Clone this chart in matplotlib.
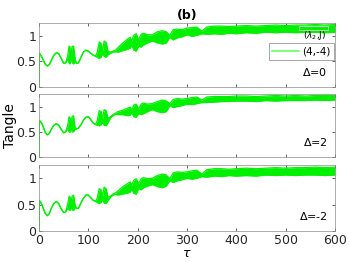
import numpy as np
import matplotlib.pyplot as plt
from matplotlib.patches import Rectangle

# time grid shared by all three panels
tau = [0, 1, 5, 9, 13, 17, 21, 25, 30, 35, 40, 45, 50, 54, 58, 61, 63, 65, 67, 70,
       73, 76, 80, 85, 90, 95, 100, 105, 110, 115, 118, 122, 126, 129, 132, 136, 140,
       145, 150, 155, 160, 170, 180, 185, 188, 192, 197, 202, 207, 212, 220, 230, 240,
       250, 258, 265, 272, 280, 290, 300, 310, 320, 330, 340, 355, 370, 385, 400, 420,
       440, 460, 480, 500, 520, 540, 560, 580, 600]

# lower / upper envelope of the tangle, Delta = 0
lo_d0 = [0.00, 0.64, 0.60, 0.52, 0.44, 0.41, 0.44, 0.52, 0.62, 0.67, 0.65, 0.56, 0.46, 0.47,
         0.54, 0.47, 0.45, 0.58, 0.48, 0.45, 0.50, 0.46, 0.47, 0.58, 0.68, 0.72, 0.70, 0.66,
         0.62, 0.60, 0.58, 0.56, 0.58, 0.66, 0.60, 0.58, 0.63, 0.66, 0.68, 0.69, 0.68, 0.71,
         0.74, 0.76, 0.82, 0.72, 0.70, 0.80, 0.78, 0.82, 0.86, 0.90, 0.86, 0.84, 0.86, 0.97,
         0.92, 0.96, 0.98, 1.02, 0.99, 1.01, 1.04, 1.03, 1.04, 1.03, 1.05, 1.04, 1.06, 1.05,
         1.07, 1.06, 1.07, 1.06, 1.07, 1.07, 1.06, 1.07]
hi_d0 = [0.00, 0.66, 0.60, 0.52, 0.44, 0.41, 0.44, 0.52, 0.62, 0.67, 0.65, 0.56, 0.46, 0.47,
         0.60, 0.80, 0.78, 0.62, 0.79, 0.80, 0.56, 0.46, 0.47, 0.58, 0.68, 0.72, 0.70, 0.66,
         0.62, 0.61, 0.68, 0.88, 0.85, 0.70, 0.90, 0.87, 0.70, 0.68, 0.70, 0.72, 0.77, 0.86,
         0.94, 0.97, 0.90, 1.01, 1.04, 0.92, 1.03, 1.05, 1.02, 1.02, 1.08, 1.10, 1.08, 1.01,
         1.12, 1.13, 1.12, 1.15, 1.16, 1.17, 1.09, 1.17, 1.19, 1.19, 1.18, 1.19, 1.20, 1.19,
         1.20, 1.21, 1.20, 1.21, 1.21, 1.22, 1.21, 1.22]

# Delta = 2
lo_d2 = [0.00, 0.71, 0.68, 0.59, 0.48, 0.44, 0.47, 0.55, 0.63, 0.66, 0.63, 0.55, 0.48, 0.50,
         0.56, 0.50, 0.49, 0.60, 0.50, 0.50, 0.55, 0.56, 0.57, 0.64, 0.73, 0.79, 0.80, 0.74,
         0.67, 0.64, 0.63, 0.62, 0.64, 0.70, 0.63, 0.62, 0.68, 0.78, 0.82, 0.85, 0.84, 0.84,
         0.82, 0.83, 0.88, 0.80, 0.79, 0.86, 0.84, 0.86, 0.90, 0.94, 0.90, 0.88, 0.90, 1.02,
         0.98, 1.00, 1.02, 1.05, 1.04, 1.06, 1.08, 1.08, 1.09, 1.10, 1.10, 1.11, 1.11, 1.10,
         1.12, 1.11, 1.12, 1.12, 1.12, 1.13, 1.12, 1.13]
hi_d2 = [0.00, 0.73, 0.68, 0.59, 0.48, 0.44, 0.47, 0.55, 0.63, 0.66, 0.63, 0.55, 0.48, 0.50,
         0.62, 0.80, 0.78, 0.64, 0.80, 0.82, 0.60, 0.56, 0.57, 0.64, 0.73, 0.79, 0.80, 0.74,
         0.67, 0.65, 0.72, 0.92, 0.90, 0.76, 0.94, 0.92, 0.76, 0.80, 0.84, 0.87, 0.90, 0.93,
         0.97, 0.99, 0.93, 1.03, 1.05, 0.95, 1.05, 1.07, 1.05, 1.06, 1.10, 1.13, 1.11, 1.06,
         1.14, 1.16, 1.15, 1.16, 1.18, 1.19, 1.13, 1.19, 1.20, 1.20, 1.20, 1.21, 1.21, 1.20,
         1.21, 1.22, 1.21, 1.22, 1.21, 1.22, 1.22, 1.22]

# Delta = -2
lo_dm2 = [0.00, 0.56, 0.52, 0.42, 0.33, 0.29, 0.33, 0.43, 0.52, 0.56, 0.52, 0.42, 0.35, 0.36,
          0.43, 0.40, 0.39, 0.48, 0.40, 0.39, 0.44, 0.43, 0.43, 0.53, 0.62, 0.68, 0.68, 0.63,
          0.58, 0.56, 0.54, 0.52, 0.54, 0.60, 0.53, 0.52, 0.58, 0.64, 0.68, 0.70, 0.68, 0.70,
          0.72, 0.74, 0.80, 0.71, 0.70, 0.80, 0.78, 0.82, 0.85, 0.88, 0.84, 0.82, 0.85, 0.95,
          0.92, 0.95, 0.97, 1.00, 0.98, 1.00, 1.03, 1.02, 1.04, 1.03, 1.05, 1.04, 1.05, 1.04,
          1.06, 1.05, 1.06, 1.05, 1.06, 1.06, 1.05, 1.06]
hi_dm2 = [0.00, 0.58, 0.52, 0.42, 0.33, 0.29, 0.33, 0.43, 0.52, 0.56, 0.52, 0.42, 0.35, 0.36,
          0.50, 0.66, 0.64, 0.52, 0.66, 0.68, 0.50, 0.43, 0.43, 0.53, 0.62, 0.68, 0.68, 0.63,
          0.58, 0.57, 0.62, 0.80, 0.78, 0.66, 0.83, 0.80, 0.64, 0.66, 0.70, 0.72, 0.76, 0.84,
          0.90, 0.93, 0.87, 0.96, 0.99, 0.90, 0.99, 1.01, 0.99, 1.00, 1.05, 1.08, 1.06, 0.99,
          1.10, 1.12, 1.11, 1.12, 1.14, 1.15, 1.08, 1.16, 1.18, 1.18, 1.17, 1.18, 1.19, 1.18,
          1.19, 1.20, 1.19, 1.20, 1.20, 1.21, 1.20, 1.21]

panels = [(lo_d0, hi_d0, r'$\Delta$=0'),
          (lo_d2, hi_d2, r'$\Delta$=2'),
          (lo_dm2, hi_dm2, r'$\Delta$=-2')]

green = '#00f000'
W, H = 349, 262
fig = plt.figure(figsize=(W / 100, H / 100), dpi=100)

# axes boxes in pixels: (top, bottom)
boxes = [(23, 87), (94, 157), (165, 231)]
left, right = 39, 335

axes = []
for (top, bot), (lo, hi, dlab) in zip(boxes, panels):
    ax = fig.add_axes([left / W, 1 - bot / H, (right - left) / W, (bot - top) / H])
    ax.fill_between(tau, lo, hi, color=green, lw=0)
    ax.plot(tau, lo, color=green, lw=0.9)
    ax.plot(tau, hi, color=green, lw=0.9)
    ax.set_xlim(0, 600)
    ax.set_ylim(0, 1.25)
    ax.set_xticks(np.arange(0, 601, 100))
    ax.set_yticks([0, 0.5, 1])
    ax.set_yticklabels(['0', '0.5', '1'])
    ax.tick_params(direction='in', length=2.5, width=0.5, top=True, right=True,
                   labelsize=9, colors='0.15', pad=2)
    for s in ax.spines.values():
        s.set_linewidth(0.5)
        s.set_color('0.55')
    ax.text(0.975, 0.14, dlab, transform=ax.transAxes, ha='right', va='bottom',
            fontsize=8)
    axes.append(ax)

for ax in axes[:2]:
    ax.set_xticklabels([])

ax1 = axes[0]
ax1.set_title('(b)', fontsize=9, fontweight='bold', pad=3)
ax1.add_patch(Rectangle((0.878, 0.89), 0.10, 0.063, transform=ax1.transAxes,
                        facecolor='none', edgecolor='0.85', lw=0.6))
ax1.text(0.93, 0.81, r'($\lambda_2$,J)', transform=ax1.transAxes, ha='center',
         va='center', fontsize=6.5)
ax1.plot([], [], color='#66ff66', lw=1.2, label='(4,-4)')
leg = ax1.legend(loc='upper right', bbox_to_anchor=(0.995, 0.68), fontsize=7.5,
                 frameon=True, fancybox=False, handlelength=2.6, handletextpad=0.3,
                 borderpad=0.3, borderaxespad=0)
leg.get_frame().set_edgecolor('0.4')
leg.get_frame().set_linewidth(0.5)

axes[2].set_xlabel(r'$\tau$', fontsize=9, labelpad=0)
fig.text(0.03, 0.52, 'Tangle', rotation=90, ha='center', va='center', fontsize=10)

fig.savefig('out.png', dpi=100)
